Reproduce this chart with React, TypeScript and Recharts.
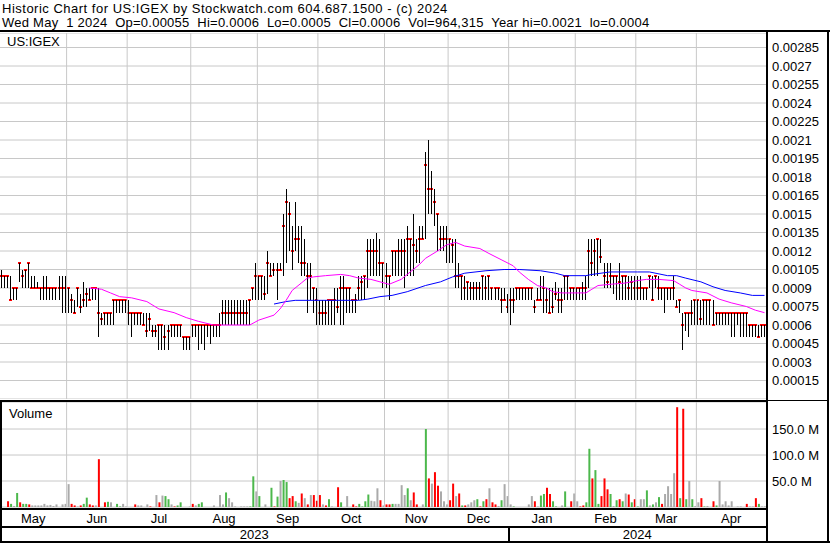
import {
  ComposedChart,
  Bar,
  Line,
  XAxis,
  YAxis,
  CartesianGrid,
  ReferenceLine,
  Cell,
} from "recharts";

const FONT = '"Liberation Sans", Arial, sans-serif';

const title = "Historic Chart for US:IGEX by Stockwatch.com 604.687.1500 - (c) 2024";
const quote =
  "Wed May  1 2024  Op=0.00055  Hi=0.0006  Lo=0.0005  Cl=0.0006  Vol=964,315  Year hi=0.0021  lo=0.0004";

// bottom axis: months and the number of daily bars in each
const months = ["May", "Jun", "Jul", "Aug", "Sep", "Oct", "Nov", "Dec", "Jan", "Feb", "Mar", "Apr"];
const monthBars = [22, 20, 21, 22, 20, 22, 21, 20, 22, 20, 20, 23];
const years = ["2023", "2024"];
const yearMonths = [8, 4];

// daily prices, in units of 0.00001
const high = [
  105, 100, 100, 100, 90, 90, 110, 105, 105, 110, 100, 100, 95, 90, 100, 100, 90, 90, 90, 100, 100, 100,
  90, 85, 80, 90, 85, 95, 90, 90, 90, 90, 90, 70, 70, 70, 70, 80, 80, 80, 80, 80,
  80, 70, 70, 70, 70, 70, 70, 70, 60, 60, 60, 60, 60, 60, 60, 60, 60, 60, 50, 50, 50,
  60, 60, 60, 60, 60, 60, 60, 60, 60, 70, 80, 80, 80, 80, 80, 80, 80, 80, 80, 80, 90, 110,
  100, 100, 100, 120, 110, 110, 110, 110, 150, 170, 160, 140, 160, 140, 140, 130, 110, 110, 90, 90,
  80, 80, 80, 80, 80, 90, 90, 100, 100, 90, 90, 80, 85, 100, 100, 100, 130, 130, 130, 135, 130, 110,
  110, 100, 120, 120, 130, 130, 130, 140, 130, 150, 130, 140, 140, 200, 210, 185, 170, 150, 140, 140, 140,
  130, 130, 130, 110, 100, 100, 95, 95, 95, 95, 95, 100, 100, 100, 90, 90, 90, 90, 90, 85,
  90, 90, 90, 90, 90, 90, 90, 90, 80, 90, 100, 100, 90, 90, 90, 95, 90, 90, 100, 100, 90, 90,
  90, 90, 95, 100, 130, 130, 130, 130, 130, 110, 110, 110, 100, 100, 110, 100, 100, 100, 100, 100,
  100, 100, 90, 90, 100, 100, 100, 100, 90, 90, 90, 90, 100, 80, 80, 70, 70, 70, 80, 80,
  80, 80, 80, 80, 80, 80, 70, 70, 70, 70, 70, 70, 70, 70, 70, 70, 70, 60, 60, 60, 60, 60, 60,
];
const low = [
  90, 90, 90, 80, 80, 80, 95, 90, 90, 90, 90, 90, 90, 80, 80, 80, 80, 80, 80, 80, 70, 70,
  70, 70, 70, 75, 70, 75, 75, 80, 80, 80, 50, 60, 60, 60, 60, 60, 70, 70, 70, 70,
  60, 50, 60, 60, 60, 60, 50, 55, 50, 50, 40, 40, 40, 40, 50, 50, 50, 50, 40, 40, 40,
  50, 50, 40, 45, 40, 50, 45, 50, 50, 50, 60, 60, 60, 60, 60, 60, 60, 60, 60, 60, 80, 80,
  80, 80, 80, 85, 100, 100, 80, 105, 100, 110, 120, 105, 120, 110, 100, 100, 70, 80, 70, 60,
  60, 60, 60, 60, 60, 60, 70, 60, 60, 70, 70, 70, 70, 80, 80, 80, 90, 100, 100, 100, 100, 90,
  90, 80, 100, 100, 100, 100, 90, 100, 100, 100, 110, 110, 130, 130, 150, 150, 140, 120, 120, 120, 110,
  110, 110, 90, 90, 80, 80, 80, 80, 80, 80, 80, 80, 80, 80, 80, 80, 80, 70, 80, 70,
  60, 70, 80, 80, 80, 80, 80, 80, 70, 80, 80, 70, 70, 70, 70, 80, 70, 70, 80, 80, 80, 80,
  80, 80, 80, 80, 90, 100, 100, 100, 110, 90, 90, 90, 85, 80, 80, 80, 80, 80, 80, 80,
  80, 80, 80, 80, 90, 80, 90, 80, 80, 70, 80, 80, 80, 75, 70, 40, 55, 50, 60, 60,
  60, 60, 60, 60, 60, 60, 60, 60, 60, 60, 60, 50, 50, 60, 50, 50, 50, 50, 50, 50, 50, 50, 50,
];
const close = [
  100, 100, 100, 80, 90, 90, 110, 100, 105, 110, 90, 90, 90, 90, 90, 90, 90, 90, 90, 90, 90, 90,
  90, 80, 70, 90, 75, 80, 85, 80, 90, 90, 70, 65, 70, 70, 70, 80, 80, 80, 80, 80,
  70, 70, 70, 70, 70, 60, 55, 65, 55, 55, 60, 60, 50, 55, 60, 60, 60, 60, 50, 50, 50,
  60, 60, 60, 60, 60, 60, 60, 60, 60, 60, 70, 70, 70, 70, 70, 70, 70, 70, 70, 80, 90, 100,
  100, 100, 85, 110, 100, 105, 105, 105, 140, 160, 150, 120, 130, 130, 110, 110, 100, 100, 90, 80,
  70, 70, 70, 80, 80, 80, 75, 90, 90, 90, 90, 80, 80, 90, 95, 100, 120, 120, 120, 120, 110, 110,
  100, 100, 120, 120, 120, 120, 120, 130, 130, 125, 120, 130, 130, 190, 170, 170, 160, 150, 130, 130, 130,
  130, 125, 100, 100, 100, 90, 95, 90, 90, 90, 90, 100, 90, 100, 90, 90, 90, 80, 80, 75,
  80, 80, 90, 90, 90, 90, 90, 90, 75, 80, 80, 90, 80, 70, 75, 85, 80, 80, 100, 100, 90, 90,
  90, 90, 90, 90, 120, 110, 120, 130, 115, 100, 95, 100, 100, 100, 95, 100, 100, 90, 95, 90,
  90, 90, 90, 90, 100, 80, 100, 90, 90, 90, 90, 90, 90, 75, 80, 60, 70, 70, 70, 80,
  80, 65, 80, 80, 80, 60, 70, 70, 70, 70, 70, 70, 70, 70, 70, 70, 70, 60, 60, 60, 50, 60, 60,
];

// daily volume, millions of shares
const volume = [
  0, 0, 11, 6, 2, 27, 9, 6, 6, 5, 3, 3, 3, 3, 6, 3, 4, 2, 5, 0, 5, 6,
  44, 6, 3, 1, 3, 6, 18, 5, 3, 3, 92, 0, 9, 10, 9, 0, 6, 1, 6, 1,
  0, 0, 5, 3, 3, 0, 5, 1, 0, 23, 9, 22, 21, 15, 5, 1, 3, 9, 0, 0, 1,
  6, 3, 6, 9, 0, 0, 0, 3, 0, 23, 5, 28, 17, 9, 1, 0, 1, 1, 1, 1, 59, 30,
  21, 0, 5, 0, 37, 1, 20, 50, 52, 48, 17, 21, 11, 8, 26, 17, 5, 23, 23, 12,
  23, 5, 3, 15, 1, 0, 38, 9, 0, 21, 0, 5, 1, 6, 1, 11, 24, 12, 11, 36, 13, 3,
  5, 5, 6, 6, 6, 42, 23, 36, 13, 28, 5, 0, 5, 150, 55, 45, 67, 41, 30, 11, 5,
  13, 45, 21, 26, 3, 3, 5, 9, 13, 15, 1, 11, 15, 36, 9, 5, 2, 13, 44, 21,
  5, 1, 0, 0, 0, 0, 5, 21, 11, 1, 22, 25, 37, 25, 11, 1, 0, 3, 30, 0, 11, 26,
  11, 1, 3, 9, 112, 55, 71, 6, 21, 55, 34, 25, 2, 13, 15, 11, 26, 24, 9, 15,
  1, 15, 15, 32, 3, 5, 9, 19, 6, 25, 40, 25, 65, 192, 17, 189, 15, 50, 15, 2,
  9, 17, 1, 2, 0, 11, 3, 50, 5, 11, 3, 11, 0, 1, 1, 0, 6, 1, 1, 17, 6, 1, 1,
];

// volume bar colour by month: g = up day, r = down day, n = unchanged
const volTone = [
  "nnrgngrggrnnnnnnnnnnnn",
  "nrrnrggrrnrnrgnnggnn",
  "nnrnnnnrnnrnggnrggnnn",
  "rnggnnnnnnngnnnnnnnggn",
  "gnnrgrgnggrrgnrnrnrr",
  "rnrgnnrgnnnrrggggnnnrn",
  "rrgnnnngnrrnngrnrrnnn",
  "rrnrgrnnngrgrnrrngnn",
  "ngnnnnnnrnggrrggnngnrn",
  "nrrggrggrrrgngrgnrgr",
  "gnngngngrnnnnrgrgngn",
  "nrgnnrgnnnnnnnnnrnnrgnn",
].join("");

// moving averages (magenta short, blue long), read at sampled bars
const fastAt = [
  29, 33, 36, 39, 43, 48, 52, 57, 61, 65, 70, 76, 82, 85, 90, 92, 94, 96, 99, 101, 103, 107, 112, 115, 118,
  122, 125, 128, 132, 135, 138, 140, 144, 147, 150, 153, 158, 161, 165, 169, 171, 174, 177, 180, 182, 185,
  189, 193, 195, 197, 201, 206, 210, 213, 217, 222, 224, 226, 228, 233, 237, 241, 246, 249, 252,
];
const fastVal = [
  90, 89, 86, 83, 82, 79, 73, 70, 66, 63, 60, 60, 60, 64, 68, 73, 80, 88, 94, 98, 99, 100, 101, 100, 98,
  97, 95, 93, 97, 103, 109, 114, 120, 125, 127, 124, 122, 118, 113, 108, 103, 97, 92, 90, 87, 86,
  86, 86, 89, 92, 93, 94, 96, 97, 97, 96, 93, 90, 88, 86, 81, 78, 75, 72, 70,
];
const slowAt = [
  90, 94, 97, 103, 106, 112, 118, 121, 125, 129, 134, 140, 145, 149, 153, 160, 166, 171, 178, 183, 186,
  193, 195, 201, 210, 214, 220, 223, 226, 231, 235, 239, 244, 248, 252,
];
const slowVal = [
  77, 79, 80, 80, 80, 80, 80, 81, 83, 84, 87, 92, 95, 99, 102, 104, 105, 105, 104, 102, 100,
  100, 101, 103, 103, 103, 100, 100, 98, 95, 91, 88, 86, 84, 84,
];

const priceTicks = [15, 30, 45, 60, 75, 90, 105, 120, 135, 150, 165, 180, 195, 210, 225, 240, 255, 270, 285];
const volumeTicks = [50, 100, 150];

const PRICE_MAX = 296.76;
const VOL_MAX = 202;
const CHART_W = 830;
const AXIS_W = 64;
const PLOT_W = CHART_W - AXIS_W;

const toneColor: Record<string, string> = { g: "#4cb84c", r: "#ff0000", n: "#aaaaaa" };
const GRID = "#c8c8c8";

const total = high.length;
const fast: (number | null)[] = high.map(() => null);
fastAt.forEach((j, k) => (fast[j] = fastVal[k]));
const slow: (number | null)[] = high.map(() => null);
slowAt.forEach((j, k) => (slow[j] = slowVal[k]));

const rows = high.map((h, i) => ({
  i,
  high: h,
  low: low[i],
  close: close[i],
  range: [low[i], h],
  vol: volume[i],
  tone: volTone[i] ?? "n",
  fast: fast[i],
  slow: slow[i],
}));

const monthStart: number[] = [];
let acc = 0;
monthBars.forEach((n) => {
  monthStart.push(acc);
  acc += n;
});
const boundaries = monthStart.slice(1).map((s) => s - 0.5);
const monthMid = monthStart.map((s, k) => s + (monthBars[k] - 1) / 2);
const yearStart = [0, monthStart[yearMonths[0]]];
const yearMid = yearStart.map((s, k) => (s + (k + 1 < yearStart.length ? yearStart[k + 1] : total) - 1) / 2);
const yearSplitX = (yearStart[1] * PLOT_W) / total;

function fmtPrice(v: number) {
  return String(Number((v / 1e5).toFixed(5)));
}

function OhlcBar(props: any) {
  const { x, y, width, height, payload } = props;
  if (x == null || y == null || !payload) return null;
  const h = Math.abs(height);
  const top = Math.min(y, y + height);
  const cx = Math.floor(x + width / 2);
  const span = payload.high - payload.low;
  const cy = span > 0 ? top + ((payload.high - payload.close) / span) * h : top;
  return (
    <g shapeRendering="crispEdges">
      <rect x={cx - 1} y={Math.round(cy) - 1} width={3} height={2} fill="#ff0000" />
      <rect x={cx} y={top} width={1} height={Math.max(h, 1)} fill="#000000" />
    </g>
  );
}

function PriceTick({ x, y, payload }: any) {
  return (
    <text x={x} y={y} dy={4.5} textAnchor="start" fontSize={13} fontFamily={FONT} fill="#000">
      {fmtPrice(payload.value)}
    </text>
  );
}

function VolumeTick({ x, y, payload }: any) {
  return (
    <text x={x} y={y} dy={4.5} textAnchor="start" fontSize={13} fontFamily={FONT} fill="#000">
      {`${payload.value.toFixed(1)} M`}
    </text>
  );
}

function MonthTick({ x, y, payload }: any) {
  const k = monthMid.indexOf(payload.value);
  return (
    <text x={x} y={y + 15.7} textAnchor="middle" fontSize={13} fontFamily={FONT} fill="#000">
      {months[k]}
    </text>
  );
}

function YearTick({ x, y, payload }: any) {
  const k = yearMid.indexOf(payload.value);
  return (
    <text x={x} y={y + 13.3} textAnchor="middle" fontSize={13} fontFamily={FONT} fill="#000">
      {years[k]}
    </text>
  );
}

function PriceChart() {
  return (
    <ComposedChart
      width={CHART_W}
      height={366}
      data={rows}
      margin={{ top: 0, right: 0, bottom: 0, left: 0 }}
      barCategoryGap={0}
      barGap={0}
    >
      <XAxis xAxisId="m" dataKey="i" type="number" domain={[-0.5, total - 0.5]} allowDataOverflow hide height={0} />
      <XAxis xAxisId="c" dataKey="i" type="category" hide height={0} />
      <YAxis
        yAxisId="p"
        orientation="right"
        width={AXIS_W}
        domain={[0, PRICE_MAX]}
        allowDataOverflow
        ticks={priceTicks}
        interval={0}
        axisLine={false}
        tickLine={false}
        tickSize={4}
        tickMargin={2}
        tick={<PriceTick />}
      />
      <CartesianGrid xAxisId="c" yAxisId="p" vertical={false} stroke={GRID} />
      {boundaries.map((b) => (
        <ReferenceLine key={b} xAxisId="m" yAxisId="p" x={b} stroke={GRID} />
      ))}
      <Bar xAxisId="c" yAxisId="p" dataKey="range" shape={OhlcBar} isAnimationActive={false} />
      <Line
        xAxisId="c"
        yAxisId="p"
        dataKey="slow"
        type="linear"
        stroke="#0000ff"
        strokeWidth={1}
        dot={false}
        connectNulls
        isAnimationActive={false}
      />
      <Line
        xAxisId="c"
        yAxisId="p"
        dataKey="fast"
        type="linear"
        stroke="#ff00ff"
        strokeWidth={1}
        dot={false}
        connectNulls
        isAnimationActive={false}
      />
    </ComposedChart>
  );
}

function VolumeChart() {
  return (
    <ComposedChart
      width={CHART_W}
      height={143}
      data={rows}
      margin={{ top: 2, right: 0, bottom: 2, left: 0 }}
      barCategoryGap={0}
    >
      <XAxis
        xAxisId="ml"
        dataKey="i"
        type="number"
        domain={[-0.5, total - 0.5]}
        allowDataOverflow
        height={19}
        ticks={monthMid}
        interval={0}
        axisLine={false}
        tickLine={false}
        tickSize={0}
        tickMargin={0}
        tick={<MonthTick />}
      />
      <XAxis
        xAxisId="yl"
        dataKey="i"
        type="number"
        domain={[-0.5, total - 0.5]}
        allowDataOverflow
        height={15}
        ticks={yearMid}
        interval={0}
        axisLine={false}
        tickLine={false}
        tickSize={0}
        tickMargin={0}
        tick={<YearTick />}
      />
      <XAxis xAxisId="c" dataKey="i" type="category" hide height={0} />
      <YAxis
        yAxisId="v"
        orientation="right"
        width={AXIS_W}
        domain={[0, VOL_MAX]}
        allowDataOverflow
        ticks={volumeTicks}
        interval={0}
        axisLine={false}
        tickLine={false}
        tickSize={4}
        tickMargin={2}
        tick={<VolumeTick />}
      />
      <CartesianGrid xAxisId="c" yAxisId="v" vertical={false} stroke={GRID} />
      {boundaries.map((b) => (
        <ReferenceLine key={b} xAxisId="ml" yAxisId="v" x={b} stroke={GRID} />
      ))}
      <Bar xAxisId="c" yAxisId="v" dataKey="vol" barSize={2} isAnimationActive={false}>
        {rows.map((r) => (
          <Cell key={r.i} fill={toneColor[r.tone]} />
        ))}
      </Bar>
    </ComposedChart>
  );
}

const line = (left: number, top: number, width: number, height: number) => (
  <div style={{ position: "absolute", left, top, width, height, background: "#000" }} />
);

export default function App() {
  return (
    <div
      style={{
        position: "absolute",
        left: 0,
        top: 0,
        width: 830,
        height: 543,
        background: "#fff",
        overflow: "hidden",
        fontFamily: FONT,
        color: "#000",
      }}
    >
      <div
        style={{
          position: "absolute",
          left: 2,
          top: 2,
          fontSize: 13,
          lineHeight: "13px",
          whiteSpace: "pre",
          letterSpacing: 0.5,
        }}
      >
        {title}
      </div>
      <div
        style={{
          position: "absolute",
          left: 2,
          top: 16,
          fontSize: 13,
          lineHeight: "13px",
          whiteSpace: "pre",
          letterSpacing: 0.25,
        }}
      >
        {quote}
      </div>

      <div style={{ position: "absolute", left: 0, top: 33 }}>
        <PriceChart />
      </div>
      <div style={{ position: "absolute", left: 0, top: 400 }}>
        <VolumeChart />
      </div>

      <div style={{ position: "absolute", left: 7, top: 35, fontSize: 13, lineHeight: "13px" }}>US:IGEX</div>
      <div style={{ position: "absolute", left: 9, top: 407, fontSize: 13, lineHeight: "13px" }}>Volume</div>

      {line(0, 30, 830, 2)}
      {line(PLOT_W, 30, 2, 513)}
      {line(827, 30, 2, 513)}
      {line(0, 400, 2, 143)}
      {line(0, 400, PLOT_W, 2)}
      {line(PLOT_W, 400, 61, 1)}
      {line(0, 508, PLOT_W, 2)}
      {line(0, 526, PLOT_W, 2)}
      {line(yearSplitX - 1, 526, 2, 15)}
      {line(0, 541, 830, 2)}
    </div>
  );
}
